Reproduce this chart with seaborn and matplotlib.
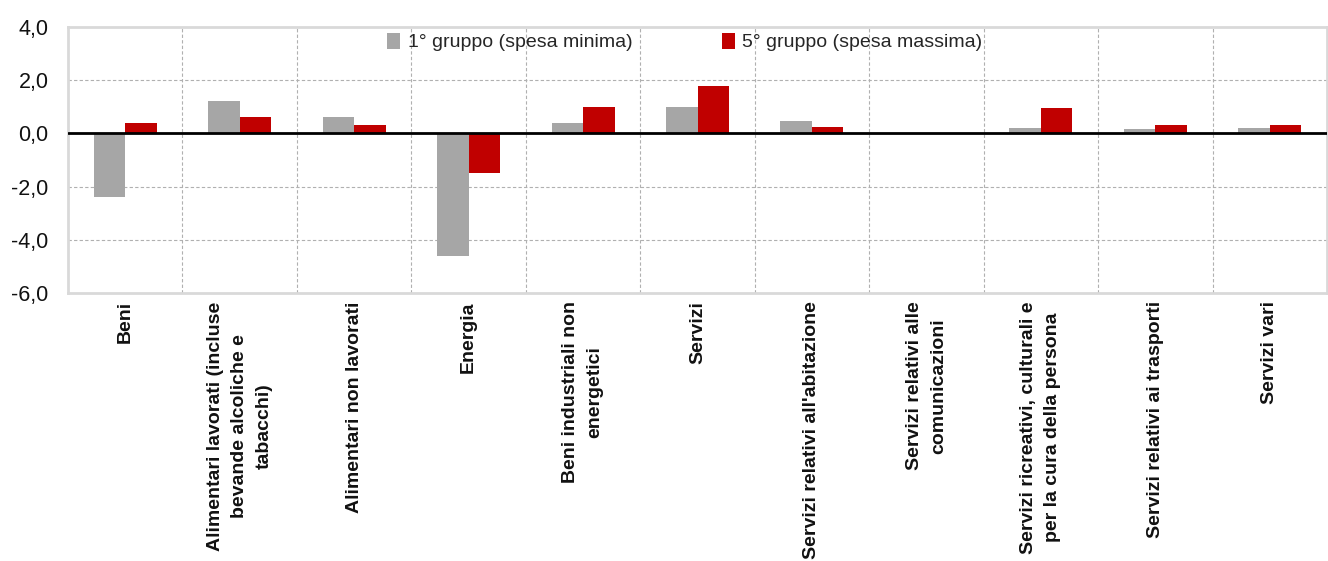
import seaborn as sns
import matplotlib.pyplot as plt
import numpy as np
import pandas as pd
from matplotlib.ticker import FuncFormatter

# categories (x-axis labels)
categories = [
    'Beni',
    'Alimentari lavorati (incluse\nbevande alcoliche e\ntabacchi)',
    'Alimentari non lavorati',
    'Energia',
    'Beni industriali non\nenergetici',
    'Servizi',
    "Servizi relativi all'abitazione",
    'Servizi relativi alle\ncomunicazioni',
    'Servizi ricreativi, culturali e\nper la cura della persona',
    'Servizi relativi ai trasporti',
    'Servizi vari',
]

series = ['1° gruppo (spesa minima)', '5° gruppo (spesa massima)']

gruppo1 = [-2.4, 1.2, 0.6, -4.6, 0.4, 1.0, 0.45, 0.0, 0.2, 0.15, 0.2]
gruppo5 = [0.4, 0.6, 0.3, -1.5, 1.0, 1.8, 0.25, 0.0, 0.95, 0.3, 0.3]

colors = ['#A6A6A6', '#C00000']

df = pd.DataFrame({'categoria': categories, series[0]: gruppo1, series[1]: gruppo5})
df_long = df.melt(id_vars='categoria', var_name='serie', value_name='valore')

sns.set_style('white')
plt.rcParams['font.family'] = ['Liberation Sans', 'DejaVu Sans']

fig = plt.figure(figsize=(13.28, 5.61), dpi=100)
ax = fig.add_axes([68 / 1328, 1 - 293 / 561, 1259 / 1328, 266 / 561])

sns.barplot(data=df_long, x='categoria', y='valore', hue='serie',
            palette=colors, width=0.55, gap=0, saturation=1, ax=ax,
            edgecolor='none', linewidth=0)

ax.set_ylim(-6, 4)
ax.set_xlim(-0.5, len(categories) - 0.5)
ax.set_yticks(np.arange(-6, 5, 2))
ax.yaxis.set_major_formatter(FuncFormatter(lambda v, p: f'{v:.1f}'.replace('.', ',')))
ax.tick_params(axis='y', length=0, labelsize=15.5, pad=14, labelcolor='#111111')

# x labels: rotated, aligned at the top, centered lines
ax.set_xticks(range(len(categories)))
ax.set_xticklabels(categories, rotation=90, ha='center', va='top', ma='center',
                   fontsize=14, fontweight='bold', linespacing=1.55, color='#111111')
ax.tick_params(axis='x', length=0, pad=6)
ax.set_xlabel('')
ax.set_ylabel('')

# grid lines
for yv in [-4, -2, 2]:
    ax.axhline(yv, color='#B0B0B0', lw=0.8, ls=(0, (3, 2)), zorder=0)
for xv in np.arange(0.5, len(categories) - 0.5, 1):
    ax.axvline(xv, color='#B0B0B0', lw=0.8, ls=(0, (3, 2)), zorder=0)
ax.axhline(0, color='black', lw=2, zorder=3)

for s in ax.spines.values():
    s.set_color('#D9D9D9')
    s.set_linewidth(2)

ax.legend(loc='center', bbox_to_anchor=(0.49, 0.944), ncol=2, frameon=False,
          fontsize=14, handlelength=0.65, handleheight=0.9, handletextpad=0.4,
          columnspacing=4.6, borderpad=0)

fig.savefig('out.png', dpi=100)
